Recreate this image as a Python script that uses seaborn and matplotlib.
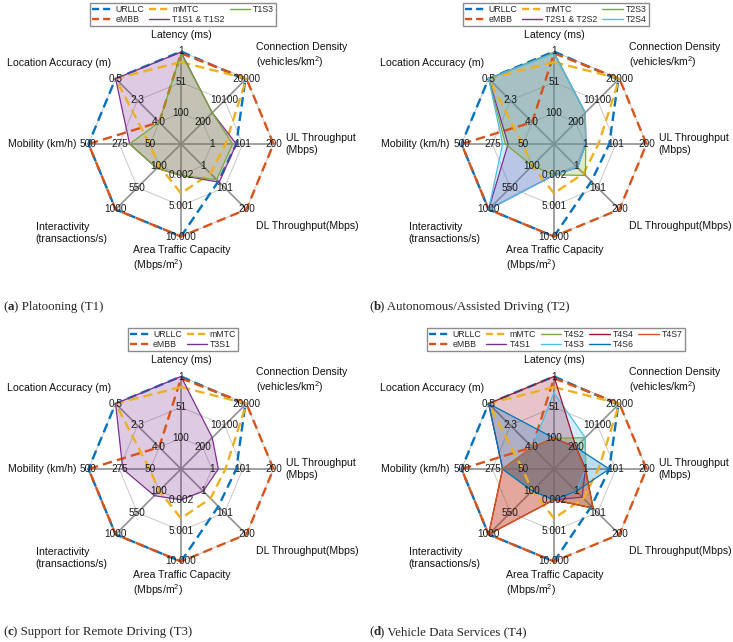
import numpy as np
import matplotlib
matplotlib.use("Agg")
import matplotlib.pyplot as plt
import seaborn as sns
from matplotlib.lines import Line2D
from matplotlib.offsetbox import TextArea, HPacker, AnnotationBbox

# spider axes, clockwise from the top
axis_names = ["Latency (ms)", "Connection Density\n(vehicles/km$^2$)", "UL Throughput\n(Mbps)",
              "DL Throughput(Mbps)", "Area Traffic Capacity\n(Mbps/m$^2$)",
              "Interactivity\n(transactions/s)", "Mobility (km/h)", "Location Accuracy (m)"]
axis_lo = [100, 200, 1, 1, 0.002, 100, 50, 4.0]      # value on the inner ring
axis_hi = [1, 20000, 200, 200, 10, 1000, 500, 0.5]   # value on the outer ring
tick_labels = [["100", "51", "1"], ["200", "10100", "20000"], ["1", "101", "200"],
               ["1", "101", "200"], ["0.002", "5.001", "10.000"], ["100", "550", "1000"],
               ["50", "275", "500"], ["4.0", "2.3", "0.5"]]

# reference services
urllc = [1, 19500, 80, 72, 10, 1000, 500, 0.5]
embb = [4, 20000, 200, 200, 10, 1000, 500, 4.0]
mmtc = [18, 20000, 45, 36, 3.0, 100, 55, 0.5]

# T1 platooning
t1s1_s2 = [2, 4500, 80, 76, 0.1, 150, 200, 0.5]
t1s3 = [4, 4500, 68, 64, 0.1, 150, 200, 4.0]
# T2 autonomous / assisted driving
t2s1_s2 = [3, 4500, 4, 9, 0.05, 1000, 160, 0.5]
t2s3 = [3, 4500, 4, 45, 0.002, 100, 180, 0.5]
t2s4 = [4, 4500, 4, 9, 0.05, 1000, 200, 0.5]
# T3 remote driving
t3s1 = [1, 4500, 22, 3, 0.002, 200, 250, 0.5]
# T4 vehicle data services
t4s1 = [100, 200, 3, 30, 0.002, 100, 200, 4.0]
t4s2 = [100, 4500, 4, 80, 0.05, 100, 200, 4.0]
t4s3 = [27, 4500, 3, 3, 0.002, 100, 200, 4.0]
t4s4 = [1, 300, 3, 80, 0.002, 1000, 200, 0.5]
t4s6 = [100, 200, 80, 3, 0.002, 100, 200, 0.5]
t4s7 = [100, 200, 1, 80, 0.002, 1000, 200, 4.0]

angles = np.deg2rad([90, 45, 0, -45, -90, -135, 180, 135])

c_blue, c_orange, c_yellow = "#0072BD", "#D95319", "#EDB120"
c_purple, c_green, c_cyan, c_maroon = "#7E2F8E", "#77AC30", "#4DBEEE", "#A2142F"

refs = [("URLLC", urllc, c_blue), ("eMBB", embb, c_orange), ("mMTC", mmtc, c_yellow)]

panels = [
    ("a", "Platooning (T1)", (181, 144), 3,
     [("T1S1 & T1S2", t1s1_s2, c_purple), ("T1S3", t1s3, c_green)]),
    ("b", "Autonomous/Assisted Driving (T2)", (554, 144), 3,
     [("T2S1 & T2S2", t2s1_s2, c_purple), ("T2S3", t2s3, c_green), ("T2S4", t2s4, c_cyan)]),
    ("c", "Support for Remote Driving (T3)", (181, 469), 2,
     [("T3S1", t3s1, c_purple)]),
    ("d", "Vehicle Data Services (T4)", (554, 469), 5,
     [("T4S1", t4s1, c_purple), ("T4S2", t4s2, c_green), ("T4S3", t4s3, c_cyan),
      ("T4S4", t4s4, c_maroon), ("T4S6", t4s6, c_blue), ("T4S7", t4s7, c_orange)]),
]

# where the axis titles sit, in units of the outer radius
name_pos = [(0, 1.18, "center"), (0.81, 0.95, "left"), (1.13, 0.0, "left"),
            (0.81, -0.89, "left"), (-0.52, -1.24, "left"), (-1.57, -0.96, "left"),
            (-1.13, 0.0, "right"), (-0.75, 0.88, "right")]

sns.set_theme(style="white")
plt.rcParams["font.family"] = ["Liberation Sans", "DejaVu Sans"]
plt.rcParams["mathtext.default"] = "regular"

W, H = 733, 642
R = 92.5
L = 1.9
fig = plt.figure(figsize=(W / 100, H / 100), dpi=100)


def to_xy(values):
    v = np.asarray(values, dtype=float)
    lo, hi = np.array(axis_lo), np.array(axis_hi)
    r = 1 / 3 + 2 / 3 * (v - lo) / (hi - lo)
    x = np.append(r * np.cos(angles), r[0] * np.cos(angles[0]))
    y = np.append(r * np.sin(angles), r[0] * np.sin(angles[0]))
    return x, y


for letter, caption, (cx, cy), ncol, scen in panels:
    side = 2 * L * R
    ax = fig.add_axes([(cx - side / 2) / W, (H - cy - side / 2) / H, side / W, side / H])
    ax.set_xlim(-L, L)
    ax.set_ylim(-L, L)
    ax.set_aspect("equal")
    ax.axis("off")

    # rings and spokes
    for k in (1, 2, 3):
        rr = k / 3
        ax.plot(np.append(rr * np.cos(angles), rr * np.cos(angles[0])),
                np.append(rr * np.sin(angles), rr * np.sin(angles[0])),
                color="#c8c8c8", lw=0.7, zorder=1)
    for a in angles:
        ax.plot([0, np.cos(a)], [0, np.sin(a)], color="#909090", lw=1.2, zorder=1)

    handles = []
    for name, vals, col in refs:
        x, y = to_xy(vals)
        sns.lineplot(x=x, y=y, ax=ax, sort=False, estimator=None, color=col,
                     lw=1.7, linestyle=(0, (4, 2.2)), zorder=3)
        handles.append(Line2D([], [], color=col, lw=1.7, linestyle=(0, (3.0, 1.7)), label=name))

    for name, vals, col in scen:
        x, y = to_xy(vals)
        ax.fill(x, y, color=col, alpha=0.25, lw=0, zorder=2)
        sns.lineplot(x=x, y=y, ax=ax, sort=False, estimator=None, color=col,
                     lw=0.9, zorder=4)
        handles.append(Line2D([], [], color=col, lw=1.0, label=name))

    # tick values on each axis
    for i, a in enumerate(angles):
        for k in range(3):
            rr = (k + 1) / 3
            ax.text(rr * np.cos(a), rr * np.sin(a), tick_labels[i][k], fontsize=7.2,
                    ha="center", va="center", color="#1a1a1a", zorder=6)
        tx, ty, ha = name_pos[i]
        ax.text(tx, ty, axis_names[i], fontsize=7.6, ha=ha, va="center",
                multialignment="left", color="#111111", zorder=6)

    top = cy - 141
    ax.legend(handles=handles, ncol=ncol, loc="upper center", fontsize=6.3,
              bbox_to_anchor=((cx + 2 - (cx - side / 2)) / side, 1 - (top - (cy - side / 2)) / side),
              frameon=True, fancybox=False, edgecolor="#8c8c8c", framealpha=1,
              handlelength=2.3, columnspacing=0.55, handletextpad=0.35,
              borderpad=0.25, labelspacing=0.1, borderaxespad=0)

    # caption
    parts = [TextArea("(", textprops=dict(family="Liberation Serif", size=9.3)),
             TextArea(letter, textprops=dict(family="Liberation Serif", size=9.3, weight="bold")),
             TextArea(") " + caption, textprops=dict(family="Liberation Serif", size=9.3))]
    box = HPacker(children=parts, align="baseline", pad=0, sep=0)
    capx = 3 if cx < 366 else 369
    ab = AnnotationBbox(box, (capx / W, 1 - (cy + 163) / H), xycoords="figure fraction",
                        box_alignment=(0, 0.5), frameon=False)
    fig.add_artist(ab)

fig.savefig("out.png", dpi=100)
